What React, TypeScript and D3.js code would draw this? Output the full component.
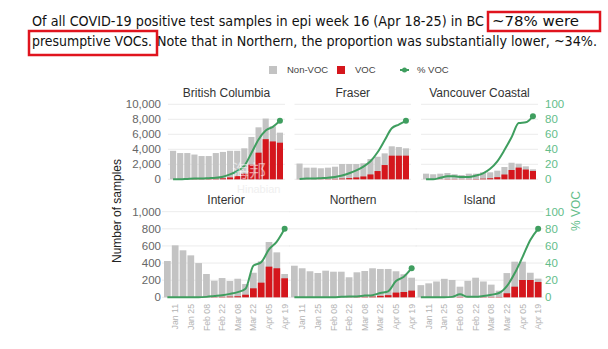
import React from "react";
import * as d3 from "d3";

const weeks = ["Jan 04","Jan 11","Jan 18","Jan 25","Feb 01","Feb 08","Feb 15","Feb 22","Mar 01","Mar 08","Mar 15","Mar 22","Mar 29","Apr 05","Apr 12","Apr 19"];
const tickWeeks = ["Jan 11","Jan 25","Feb 08","Feb 22","Mar 08","Mar 22","Apr 05","Apr 19"];
const topTicks = [0, 2000, 4000, 6000, 8000, 10000];
const bottomTicks = [0, 200, 400, 600, 800, 1000];
const pctTicks = [0, 20, 40, 60, 80, 100];

const bcTotal = [3800,3500,3500,3300,3100,3100,3500,3650,3800,3800,4130,5640,6930,8100,7080,6220];
const bcVoc = [0,0,15,30,30,45,80,130,250,420,750,1950,3550,5350,5050,4880];
const bcPct = [0,0,0.5,1,1,1.5,2,3.5,6.5,11,18,35,53,65,70,78];

const fraserTotal = [2100,1550,1550,1470,1550,1680,2040,2040,2040,2130,2700,3010,3460,4400,4300,4130];
const fraserVoc = [10,15,15,20,30,50,100,160,250,380,650,1100,1900,3150,3150,3150];
const fraserPct = [0.5,1,1,1.5,2,3,5,8,12,17,24,36,52,68,73,78];

const vcTotal = [750,670,750,840,670,570,750,750,930,930,1150,1640,2210,2080,1730,1330];
const vcVoc = [0,0,15,35,30,20,25,40,80,140,280,640,1240,1560,1300,1110];
const vcPct = [0,0,2,4,4,3,3,5,8,14,24,39,56,75,76,84];

const interiorTotal = [424,607,549,490,400,272,194,225,190,217,155,287,420,646,525,272];
const interiorVoc = [0,0,0,0,0,1,3,5,8,12,30,105,171,358,339,222];
const interiorPct = [0,0,0,0,0,0.5,1.5,2.5,4,6,10,37,41,56,65,80];

const northernTotal = [369,339,304,284,311,299,299,234,292,307,339,331,331,304,269,229];
const northernVoc = [0,0,0,0,0,0,1,2,3,6,8,17,25,55,62,78];
const northernPct = [0,0,0,0,0,0,0.5,1,1,2,2.5,5,7,19,24,34];

const islandTotal = [142,163,185,216,202,124,192,229,185,148,77,283,416,416,287,218];
const islandVoc = [0,0,0,0,1,4,1,1,3,4,4,47,124,202,202,179];
const islandPct = [0,0,0,0,0.5,3.5,0.5,0.5,1.5,3,5,13,28,47,67,80];

const regionNames = ["British Columbia","Fraser","Vancouver Coastal","Interior","Northern","Island"];

const GRAY = "#c3c3c3";
const RED = "#d5161c";
const GREEN = "#3f9e5f";
const GREEN_TXT = "#63bd8a";

type PanelProps = {
  name: string; total: number[]; voc: number[]; pct: number[];
  x0: number; x1: number; y: d3.ScaleLinear<number, number>; p: d3.ScaleLinear<number, number>;
  ticks: number[]; showX: boolean; titleY: number;
};

function Panel({ name, total, voc, pct, x0, x1, y, p, ticks, showX, titleY }: PanelProps) {
  const xb = d3.scaleBand<string>().domain(weeks).range([x0, x1]).paddingInner(0.14).paddingOuter(0);
  const cx = (i: number) => (xb(weeks[i]) as number) + xb.bandwidth() / 2;
  const line = d3.line<number>().x((_, i) => cx(i)).y(d => p(d)).curve(d3.curveMonotoneX);
  const last = pct.length - 1;
  return (
    <g>
      {ticks.map(t => (
        <line key={t} x1={x0 - 2} x2={x1 + 2} y1={y(t)} y2={y(t)} stroke="#ececec" strokeWidth={1} />
      ))}
      {total.map((v, i) => (
        <g key={i}>
          <rect x={xb(weeks[i])} y={y(v)} width={xb.bandwidth()} height={y(0) - y(v)} fill={GRAY} />
          <rect x={xb(weeks[i])} y={y(voc[i])} width={xb.bandwidth()} height={y(0) - y(voc[i])} fill={RED} />
        </g>
      ))}
      <path d={line(pct) || ""} fill="none" stroke={GREEN} strokeWidth={2} />
      <circle cx={cx(last)} cy={p(pct[last])} r={3} fill={GREEN} />
      <text x={(x0 + x1) / 2} y={titleY} textAnchor="middle" fontSize={12} fill="#333">{name}</text>
      {showX && tickWeeks.map(w => {
        const tx = (xb(w) as number) + xb.bandwidth() / 2;
        return (
          <text key={w} transform={`translate(${tx},304) rotate(-90)`} textAnchor="end" dy="0.35em" fontSize={8.7} fill="#b3b3b3">{w}</text>
        );
      })}
    </g>
  );
}

export default function App() {
  const yTop = d3.scaleLinear().domain([0, 10000]).range([179.3, 104.3]);
  const pTop = d3.scaleLinear().domain([0, 100]).range([179.3, 104.3]);
  const yBot = d3.scaleLinear().domain([0, 1000]).range([297.3, 211.7]);
  const pBot = d3.scaleLinear().domain([0, 100]).range([297.3, 211.7]);
  const fmt = d3.format(",");

  const topPanels = [
    { name: regionNames[0], total: bcTotal, voc: bcVoc, pct: bcPct, x0: 170, x1: 283 },
    { name: regionNames[1], total: fraserTotal, voc: fraserVoc, pct: fraserPct, x0: 296.5, x1: 409 },
    { name: regionNames[2], total: vcTotal, voc: vcVoc, pct: vcPct, x0: 423, x1: 536 },
  ];
  const botPanels = [
    { name: regionNames[3], total: interiorTotal, voc: interiorVoc, pct: interiorPct, x0: 164, x1: 288 },
    { name: regionNames[4], total: northernTotal, voc: northernVoc, pct: northernPct, x0: 291, x1: 415 },
    { name: regionNames[5], total: islandTotal, voc: islandVoc, pct: islandPct, x0: 417.5, x1: 541.5 },
  ];

  const headFont = "'Liberation Sans Narrow', 'DejaVu Sans Condensed', 'Liberation Sans', sans-serif";

  return (
    <svg width={608} height={349} style={{ position: "absolute", left: 0, top: 0, background: "#fff" }}
      fontFamily="'Liberation Sans', Arial, sans-serif">
      <rect width={608} height={349} fill="#fff" />
      {/* header */}
      <text x={32} y={26} fontSize={14} fontFamily={headFont} fill="#111" textLength={452} lengthAdjust="spacingAndGlyphs">Of all COVID-19 positive test samples in epi week 16 (Apr 18-25) in BC</text>
      <text x={492} y={26} fontSize={14} fontFamily={headFont} fill="#111" textLength={87} lengthAdjust="spacingAndGlyphs">~78% were</text>
      <text x={32} y={46} fontSize={14} fontFamily={headFont} fill="#111" textLength={120} lengthAdjust="spacingAndGlyphs">presumptive VOCs.</text>
      <text x={157} y={46} fontSize={14} fontFamily={headFont} fill="#111" textLength={440} lengthAdjust="spacingAndGlyphs">Note that in Northern, the proportion was substantially lower, ~34%.</text>
      <rect x={488} y={12} width={112} height={19} fill="none" stroke="#e0141e" strokeWidth={2.5} />
      <rect x={29} y={31} width={128} height={24} fill="none" stroke="#e0141e" strokeWidth={2.5} />

      {/* legend */}
      <rect x={269} y={66} width={8} height={8} fill={GRAY} />
      <text x={287} y={70} dy="0.35em" fontSize={9.5} fill="#444">Non-VOC</text>
      <rect x={337} y={66} width={8} height={8} fill={RED} />
      <text x={355} y={70} dy="0.35em" fontSize={9.5} fill="#444">VOC</text>
      <line x1={400} x2={409} y1={70} y2={70} stroke={GREEN} strokeWidth={2} />
      <circle cx={404.5} cy={70} r={2.5} fill={GREEN} />
      <text x={417} y={70} dy="0.35em" fontSize={9.5} fill="#444">% VOC</text>

      {/* left axes */}
      {topTicks.map(t => (
        <text key={"lt" + t} x={161} y={yTop(t)} dy="0.35em" textAnchor="end" fontSize={11.5} fill="#666">{fmt(t)}</text>
      ))}
      {bottomTicks.map(t => (
        <text key={"lb" + t} x={161} y={yBot(t)} dy="0.35em" textAnchor="end" fontSize={11.5} fill="#666">{fmt(t)}</text>
      ))}
      <text transform="translate(117,211) rotate(-90)" textAnchor="middle" dy="0.35em" fontSize={12} fill="#222">Number of samples</text>

      {/* right axes */}
      {pctTicks.map(t => (
        <text key={"rt" + t} x={545} y={pTop(t)} dy="0.35em" fontSize={11.5} fill={GREEN_TXT}>{t}</text>
      ))}
      {pctTicks.map(t => (
        <text key={"rb" + t} x={545} y={pBot(t)} dy="0.35em" fontSize={11.5} fill={GREEN_TXT}>{t}</text>
      ))}
      <text transform="translate(576,211) rotate(-90)" textAnchor="middle" dy="0.35em" fontSize={12} fill={GREEN_TXT}>% VOC</text>

      {topPanels.map(pn => (
        <Panel key={pn.name} {...pn} y={yTop} p={pTop} ticks={topTicks} showX={false} titleY={97} />
      ))}
      {botPanels.map(pn => (
        <Panel key={pn.name} {...pn} y={yBot} p={pBot} ticks={bottomTicks} showX={true} titleY={204} />
      ))}

      {/* watermark */}
      <text x={232} y={177} fontSize={17} fill="#ffffff" opacity={0.55} fontFamily="'Noto Sans CJK SC', sans-serif">海邦</text>
      <text x={237} y={193} fontSize={11} fill="#e6e6e6" opacity={0.6}>Hinabian</text>
    </svg>
  );
}
